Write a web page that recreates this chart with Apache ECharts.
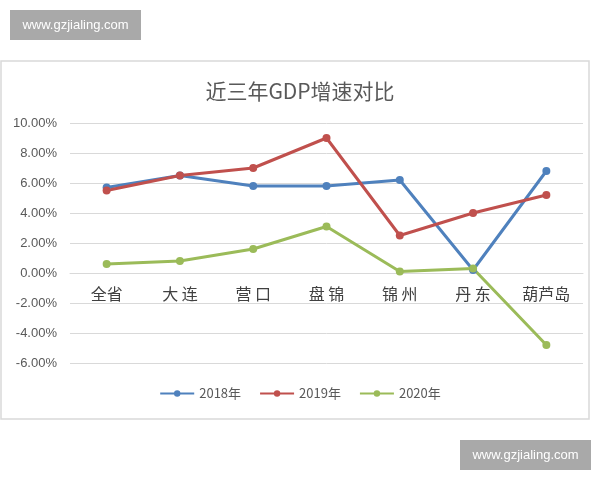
<!DOCTYPE html>
<html lang="zh">
<head>
  <meta charset="utf-8" />
  <title>近三年GDP增速对比</title>
  <script src="https://cdn.jsdelivr.net/npm/echarts@6/dist/echarts.min.js"></script>
  <style>
    html, body { margin: 0; padding: 0; background: #fff; }
    #main { width: 600px; height: 480px; }
  </style>
</head>
<body>
  <div id="main"></div>
  <script type="text/javascript">
    // data (percent)
    var cities = ['全省', '大 连', '营 口', '盘 锦', '锦 州', '丹 东', '葫芦岛'];
    var years = ['2018年', '2019年', '2020年'];
    var gdp2018 = [5.7, 6.5, 5.8, 5.8, 6.2, 0.2, 6.8];
    var gdp2019 = [5.5, 6.5, 7.0, 9.0, 2.5, 4.0, 5.2];
    var gdp2020 = [0.6, 0.8, 1.6, 3.1, 0.1, 0.3, -4.8];

    var colors = ['#4F81BD', '#C0504D', '#9BBB59'];
    var font = '"Noto Sans CJK SC", "Noto Sans", sans-serif';

    var myChart = echarts.init(document.getElementById('main'));

    function lineSeries(name, data, color) {
      return {
        name: name,
        type: 'line',
        data: data,
        symbol: 'circle',
        symbolSize: 8,
        lineStyle: { width: 3, color: color },
        itemStyle: { color: color },
        z: 3
      };
    }

    var option = {
      animation: false,
      backgroundColor: '#fff',
      color: colors,
      title: {
        text: '近三年GDP增速对比',
        left: 'center',
        top: 76,
        textStyle: { fontSize: 21, fontWeight: 'normal', color: '#595959', fontFamily: font }
      },
      legend: {
        data: years,
        bottom: 75,
        left: 'center',
        itemWidth: 34,
        itemHeight: 8,
        itemGap: 18,
        textStyle: { fontSize: 13, color: '#595959', fontFamily: font }
      },
      grid: { left: 70, right: 17, top: 123, bottom: 117 },
      xAxis: {
        type: 'category',
        data: cities,
        boundaryGap: true,
        position: 'bottom',
        // the category axis sits on the 0.00% line (90px above the grid bottom)
        offset: -90,
        axisLine: { onZero: false, lineStyle: { color: '#d9d9d9', width: 1 } },
        axisTick: { show: false },
        axisLabel: { fontSize: 16, color: '#404040', fontFamily: font, margin: 13 }
      },
      yAxis: {
        type: 'value',
        min: -6,
        max: 10,
        interval: 2,
        axisLine: { show: false },
        axisTick: { show: false },
        splitLine: { lineStyle: { color: '#d9d9d9', width: 1 } },
        axisLabel: {
          fontSize: 13,
          color: '#595959',
          fontFamily: 'Arial, "Liberation Sans", sans-serif',
          margin: 13,
          formatter: function (v) { return v.toFixed(2) + '%'; }
        }
      },
      graphic: [
        {
          type: 'rect',
          shape: { x: 1, y: 61, width: 588, height: 358 },
          style: { fill: 'none', stroke: '#d9d9d9', lineWidth: 1.5 },
          z: -1
        },
        {
          type: 'group',
          left: 10, top: 10,
          children: [
            { type: 'rect', shape: { width: 131, height: 30 }, style: { fill: '#a9a9a9' } },
            { type: 'text', x: 65.5, y: 15, style: { text: 'www.gzjialing.com', fill: '#fff', fontSize: 13, fontFamily: 'Arial, "Liberation Sans", sans-serif', align: 'center', verticalAlign: 'middle' } }
          ]
        },
        {
          type: 'group',
          left: 460, top: 440,
          children: [
            { type: 'rect', shape: { width: 131, height: 30 }, style: { fill: '#a9a9a9' } },
            { type: 'text', x: 65.5, y: 15, style: { text: 'www.gzjialing.com', fill: '#fff', fontSize: 13, fontFamily: 'Arial, "Liberation Sans", sans-serif', align: 'center', verticalAlign: 'middle' } }
          ]
        }
      ],
      series: [
        lineSeries(years[0], gdp2018, colors[0]),
        lineSeries(years[1], gdp2019, colors[1]),
        lineSeries(years[2], gdp2020, colors[2])
      ]
    };

    myChart.setOption(option);
  </script>
</body>
</html>
